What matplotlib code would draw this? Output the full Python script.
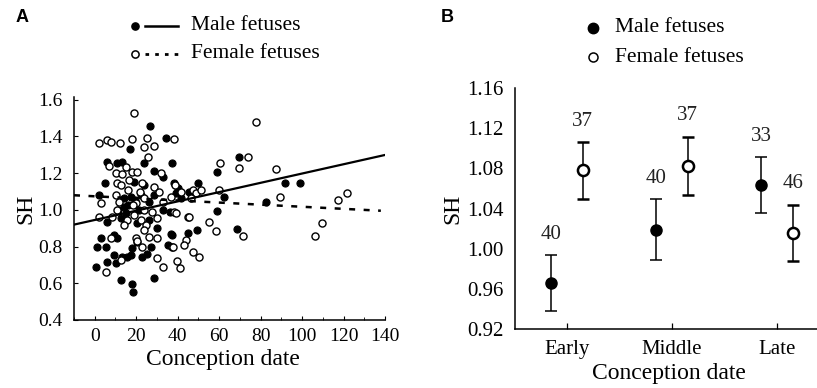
import matplotlib.pyplot as plt
from matplotlib.lines import Line2D
import numpy as np

plt.rcParams['font.family'] = ['Liberation Serif', 'DejaVu Serif']

# Panel A: SH against conception date, one point per sample
male_x = [26.8, 17.1, 34.6, 5.9, 10.7, 13.2, 23.9, 28.8, 37.1, 4.9, 19.0, 32.7, 23.9, 2.0, 14.1, 17.6,
          22.4, 26.3, 28.8, 14.1, 15.1, 12.7, 20.5, 26.3, 32.7, 36.1, 5.9, 29.8, 2.9, 9.3, 10.7, 1.0,
          5.4, 18.0, 20.5, 27.3, 37.1, 35.1, 9.3, 13.2, 15.6, 17.6, 22.9, 25.4, 5.9, 10.2, 0.5, 12.7,
          28.8, 18.0, 18.5, 69.8, 59.0, 38.0, 40.0, 45.4, 49.8, 39.0, 62.4, 41.5, 82.4, 59.0, 68.8,
          44.9, 49.3, 36.6, 91.7, 99.0, 16.1, 19.5, 21.5, 11.2]
male_y = [1.458, 1.333, 1.393, 1.262, 1.256, 1.262, 1.256, 1.213, 1.256, 1.147, 1.153, 1.180, 1.136,
          1.082, 1.065, 1.071, 1.082, 1.044, 1.082, 1.016, 0.984, 0.956, 0.929, 0.945, 1.000, 0.989,
          0.935, 0.902, 0.847, 0.864, 0.847, 0.798, 0.798, 0.793, 0.825, 0.798, 0.864, 0.809, 0.755,
          0.744, 0.744, 0.755, 0.744, 0.760, 0.716, 0.711, 0.689, 0.618, 0.629, 0.596, 0.553, 1.289,
          1.207, 1.147, 1.120, 1.098, 1.147, 1.093, 1.071, 1.065, 1.044, 0.994, 0.896, 0.874, 0.891,
          0.869, 1.147, 1.147, 1.027, 1.055, 1.000, 1.000]
female_x = [19.0, 2.0, 5.9, 7.8, 12.2, 18.0, 23.9, 25.4, 28.8, 38.0, 25.9, 6.8, 10.2, 15.1, 18.0, 20.5,
            32.2, 13.2, 16.6, 10.7, 12.7, 22.9, 28.8, 31.2, 38.5, 2.9, 10.2, 11.7, 20.0, 23.9, 32.7,
            10.7, 19.0, 23.9, 27.8, 29.8, 2.0, 8.3, 15.6, 22.4, 24.9, 23.9, 14.1, 7.8, 20.0, 20.5,
            26.3, 29.8, 22.9, 12.7, 5.4, 29.8, 32.7, 37.1, 78.0, 74.1, 60.5, 69.8, 41.5, 47.3, 48.8,
            51.2, 60.0, 36.6, 46.3, 38.0, 39.0, 44.9, 45.4, 55.1, 58.5, 71.7, 43.9, 42.9, 37.6, 47.3,
            50.2, 39.5, 41.0, 87.3, 89.3, 117.1, 121.5, 109.8, 106.3, 16.1, 18.5, 22.0]
female_y = [1.529, 1.365, 1.382, 1.371, 1.365, 1.387, 1.344, 1.393, 1.349, 1.387, 1.289, 1.240, 1.202,
            1.235, 1.207, 1.207, 1.202, 1.196, 1.164, 1.147, 1.136, 1.147, 1.125, 1.098, 1.136, 1.038,
            1.082, 1.044, 1.038, 1.065, 1.044, 1.000, 0.973, 1.000, 0.989, 0.956, 0.962, 0.962, 0.945,
            0.945, 0.918, 0.891, 0.918, 0.847, 0.847, 0.831, 0.853, 0.847, 0.798, 0.727, 0.662, 0.738,
            0.689, 0.798, 1.480, 1.289, 1.256, 1.229, 1.098, 1.109, 1.093, 1.109, 1.109, 1.071, 1.065,
            0.989, 0.984, 0.962, 0.962, 0.935, 0.885, 0.858, 0.836, 0.809, 0.798, 0.771, 0.744, 0.722,
            0.684, 1.224, 1.071, 1.055, 1.093, 0.929, 0.858, 1.109, 1.027, 1.098]

# regression lines (intercept, slope) and their x extent
male_fit = (0.945, 0.00253)
female_fit = (1.074, -0.00057)
male_span = (-10, 140)
female_span = (-10, 138)

# Panel B: mean SH +- error per conception period
periods = ['Early', 'Middle', 'Late']
male_mean = [0.9655, 1.019, 1.0634]
male_err = [0.028, 0.030, 0.028]
female_mean = [1.078, 1.0826, 1.0159]
female_err = [0.0285, 0.029, 0.028]
male_n = [40, 40, 33]
female_n = [37, 37, 46]

W, H = 817, 388
fig = plt.figure(figsize=(W / 100, H / 100), dpi=100)


def fx(px):
    return px / W


def fy(py):
    return 1 - py / H


# ---------- panel A ----------
axA = fig.add_axes([fx(74), fy(320), fx(385) - fx(74), fy(97) - fy(320)])
axA.scatter(male_x, male_y, s=26, c='black', edgecolors='black', linewidths=0.8, zorder=2)
axA.scatter(female_x, female_y, s=26, c='white', edgecolors='black', linewidths=1.0, zorder=3)

xm = np.array(male_span)
axA.plot(xm, male_fit[0] + male_fit[1] * xm, color='black', lw=1.6, zorder=4)
xf = np.array(female_span)
axA.plot(xf, female_fit[0] + female_fit[1] * xf, color='black', lw=1.8,
         dashes=(2.4, 3.4), zorder=4)

axA.set_xlim(-10, 140)
axA.set_ylim(0.4, 1.615)
axA.set_xticks(np.arange(0, 141, 20))
axA.set_xticks(np.arange(-10, 141, 10), minor=True)
axA.set_yticks(np.arange(0.4, 1.61, 0.2))
axA.set_yticklabels([f'{v:.1f}' for v in np.arange(0.4, 1.61, 0.2)])
axA.tick_params(direction='in', length=3, width=0.8, labelsize=14, pad=6)
axA.tick_params(axis='y', pad=8)
axA.tick_params(which='minor', direction='in', length=2, width=0.6)
for s in ['top', 'right']:
    axA.spines[s].set_visible(False)
for s in ['left', 'bottom']:
    axA.spines[s].set_linewidth(1.1)
axA.set_xlabel('Conception date', fontsize=17)
axA.set_ylabel('SH', fontsize=17)
axA.xaxis.set_label_coords(0.48, -0.13)
axA.yaxis.set_label_coords(-0.12, 0.5)

# legend A drawn by hand (marker + line sample)
fig.add_artist(Line2D([fx(135)], [fy(26)], marker='o', ms=5.2, mfc='black', mec='black',
                      transform=fig.transFigure))
fig.add_artist(Line2D([fx(145), fx(178)], [fy(26), fy(26)], color='black', lw=1.8,
                      transform=fig.transFigure))
fig.text(fx(191), fy(26), 'Male fetuses', fontsize=15.5, va='center', ha='left')
fig.add_artist(Line2D([fx(135)], [fy(54)], marker='o', ms=5.2, mfc='white', mec='black', mew=1.1,
                      transform=fig.transFigure))
fig.add_artist(Line2D([fx(145), fx(178)], [fy(54), fy(54)], color='black', lw=2.0,
                      dashes=(1.3, 2.2), transform=fig.transFigure))
fig.text(fx(191), fy(54), 'Female fetuses', fontsize=15.5, va='center', ha='left')

fig.text(fx(16), fy(18), 'A', fontsize=13, fontweight='bold', family='Liberation Sans',
         va='center', ha='left')
fig.text(fx(441), fy(18), 'B', fontsize=13, fontweight='bold', family='Liberation Sans',
         va='center', ha='left')

# ---------- panel B ----------
axB = fig.add_axes([fx(515), fy(329), fx(817) - fx(515), fy(88) - fy(329)])
pos = np.arange(1, len(periods) + 1)
off = 0.15
axB.errorbar(pos - off, male_mean, yerr=male_err, fmt='o', ms=8, mfc='black', mec='black',
             ecolor='black', elinewidth=1.1, capsize=4, capthick=1.1, zorder=3)
axB.errorbar(pos + off, female_mean, yerr=female_err, fmt='o', ms=8, mfc='white', mec='black',
             mew=1.8, ecolor='black', elinewidth=1.1, capsize=4, capthick=1.1, zorder=3)
for p, m, e, n in zip(pos - off, male_mean, male_err, male_n):
    axB.annotate(str(n), (p, m + e), xytext=(0, 8), textcoords='offset points',
                 ha='center', va='bottom', fontsize=15, color='#222222')
for p, m, e, n in zip(pos + off, female_mean, female_err, female_n):
    axB.annotate(str(n), (p, m + e), xytext=(0, 8), textcoords='offset points',
                 ha='center', va='bottom', fontsize=15, color='#222222')

axB.set_xlim(0.505, 3.381)
axB.set_ylim(0.92, 1.16)
axB.set_xticks(pos)
axB.set_xticklabels(periods)
axB.set_yticks(np.arange(0.92, 1.161, 0.04))
axB.set_yticklabels([f'{v:.2f}' for v in np.arange(0.92, 1.161, 0.04)])
axB.tick_params(direction='in', length=4, width=0.9, labelsize=15)
axB.tick_params(axis='x', pad=8)
axB.tick_params(axis='y', length=0, pad=8)
for s in ['top', 'right']:
    axB.spines[s].set_visible(False)
for s in ['left', 'bottom']:
    axB.spines[s].set_linewidth(1.1)
axB.set_xlabel('Conception date', fontsize=17)
axB.set_ylabel('SH', fontsize=17)
axB.xaxis.set_label_coords(0.51, -0.14)
axB.yaxis.set_label_coords(-0.17, 0.5)

# legend B
fig.add_artist(Line2D([fx(593)], [fy(28)], marker='o', ms=7.5, mfc='black', mec='black',
                      transform=fig.transFigure))
fig.text(fx(615), fy(28), 'Male fetuses', fontsize=15.5, va='center', ha='left')
fig.add_artist(Line2D([fx(593)], [fy(57)], marker='o', ms=6.5, mfc='white', mec='black', mew=1.1,
                      transform=fig.transFigure))
fig.text(fx(615), fy(57), 'Female fetuses', fontsize=15.5, va='center', ha='left')

fig.savefig('out.png', dpi=100)
